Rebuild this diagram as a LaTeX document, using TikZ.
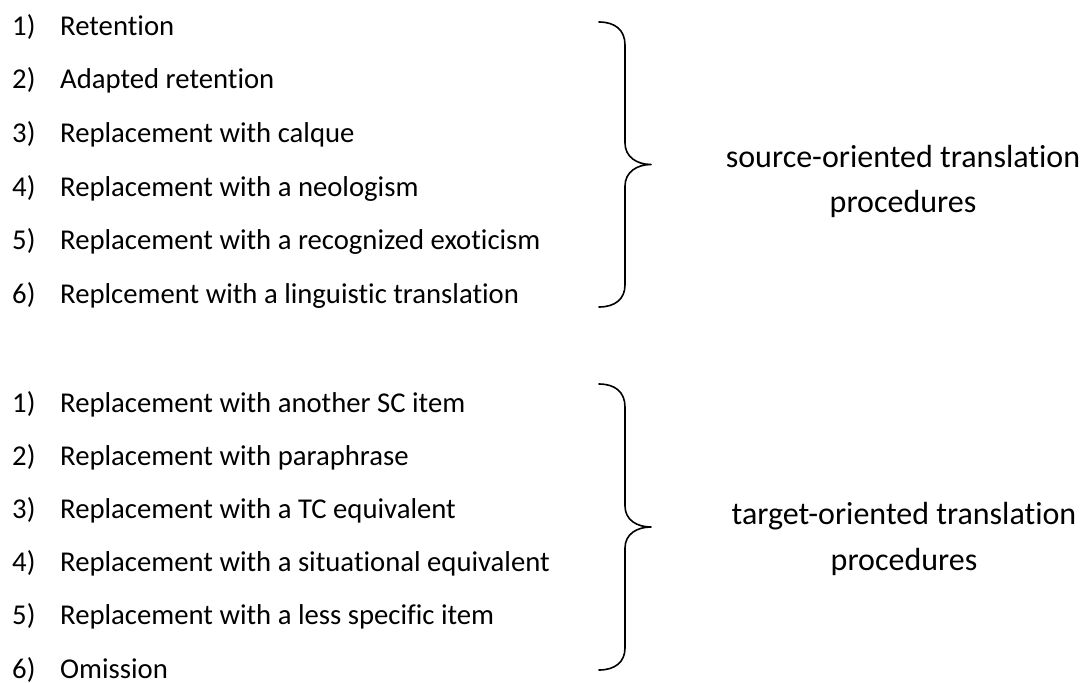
\documentclass[tikz,border=0pt]{standalone}
\usepackage{fontspec}
\setmainfont{Carlito}[Ligatures=NoCommon]
\begin{document}
\begin{tikzpicture}[x=1pt,y=-1pt,
  num/.style={anchor=base west,inner sep=0pt,font=\fontsize{28.7}{35}\selectfont},
  item/.style={anchor=base west,inner sep=0pt,font=\fontsize{28.7}{35}\selectfont},
  lbl/.style={anchor=base,inner sep=0pt,font=\fontsize{32}{38}\selectfont},
  brace/.style={line width=1.6pt,line cap=round,line join=round}]
\useasboundingbox (0,0) rectangle (1083,682);
% group 1
\foreach \i/\t in {1/Retention,2/Adapted retention,3/Replacement with calque,4/Replacement with a neologism,5/Replacement with a recognized exoticism,6/Replcement with a linguistic translation}{
  \node[num] (an\i) at (12,{35.5+(\i-1)*53.5}) {\i)};
  \node[item] (a\i) at (60,{35.5+(\i-1)*53.5}) {\t};
}
% group 2
\foreach \i/\t in {1/Replacement with another SC item,2/Replacement with paraphrase,3/Replacement with a TC equivalent,4/Replacement with a situational equivalent,5/Replacement with a less specific item,6/Omission}{
  \node[num] (bn\i) at (12,{412+(\i-1)*53.2}) {\i)};
  \node[item] (b\i) at (60,{412+(\i-1)*53.2}) {\t};
}
% labels
\node[lbl] (s1) at (903,167) {source-oriented translation};
\node[lbl] (s2) at (903,212) {procedures};
\node[lbl] (t1) at (904,524) {target-oriented translation};
\node[lbl] (t2) at (904,570) {procedures};
% braces
\coordinate (tipA) at (651,164.5);
\coordinate (tipB) at (651,527);
\draw[brace] (599,22) .. controls (615,22) and (625,30) .. (625,45) -- (625,143)
  .. controls (625,157) and (637,164.5) .. (tipA)
  .. controls (637,164.5) and (625,172) .. (625,186) -- (625,285)
  .. controls (625,299) and (615,307) .. (599,307);
\draw[brace] (599,384) .. controls (615,384) and (625,392) .. (625,407) -- (625,506)
  .. controls (625,520) and (637,527) .. (tipB)
  .. controls (637,527) and (625,534) .. (625,548) -- (625,648)
  .. controls (625,662) and (615,670) .. (599,670);
\end{tikzpicture}
\end{document}
